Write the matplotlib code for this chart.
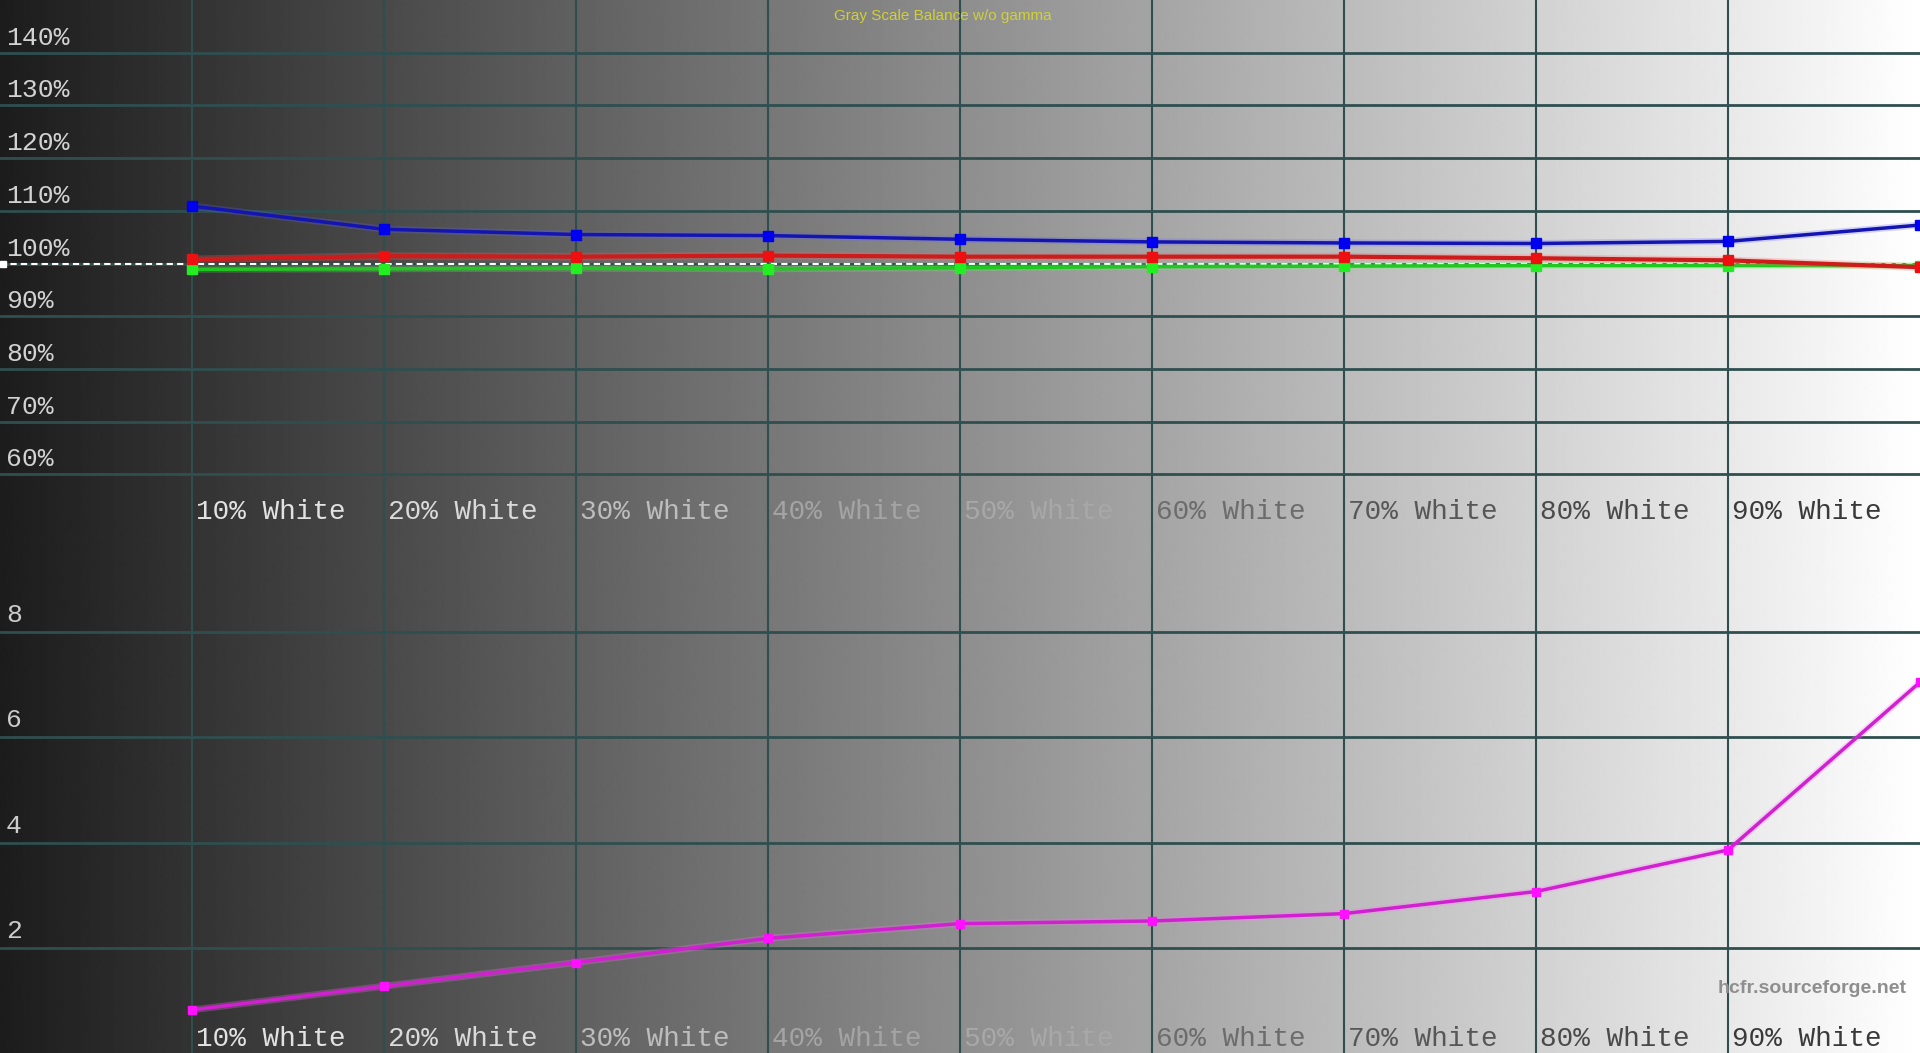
import numpy as np
import matplotlib.pyplot as plt
import matplotlib.patheffects as pe

# measured gray levels (% white)
levels = [10, 20, 30, 40, 50, 60, 70, 80, 90, 100]
x_labels = ["10% White", "20% White", "30% White", "40% White", "50% White",
            "60% White", "70% White", "80% White", "90% White"]

# RGB balance (%)
red = [100.8, 101.4, 101.3, 101.5, 101.3, 101.3, 101.3, 101.0, 100.6, 99.3]
green = [98.9, 99.0, 99.1, 99.0, 99.2, 99.4, 99.5, 99.6, 99.6, 99.6]
blue = [110.9, 106.5, 105.5, 105.3, 104.6, 104.1, 103.9, 103.8, 104.2, 107.3]

# delta E
delta_e = [0.82, 1.27, 1.72, 2.18, 2.46, 2.51, 2.65, 3.07, 3.86, 7.05]

rgb_ticks = [60, 70, 80, 90, 100, 110, 120, 130, 140]
de_ticks = [2, 4, 6, 8]

label_colors = ["#e2e2e2", "#dadada", "#bdbdbd", "#a4a4a4", "#a8a8a8",
                "#6c6c6c", "#575757", "#4a4a4a", "#3a3a3a"]

GRID = "#2f4f4f"
MONO = "Liberation Mono"


def draw_series(ax, y, line_color, glow_color, mark_color, lw, ms, z):
    # soft halo under the line, then plain square markers on top
    ax.plot(levels, y, color=line_color, lw=lw, zorder=z,
            path_effects=[pe.Stroke(linewidth=lw + 2.5, foreground=glow_color,
                                    alpha=0.25), pe.Normal()])
    ax.plot(levels, y, ls="none", marker="s", ms=ms, mfc=mark_color,
            mec=mark_color, zorder=z + 0.5)


def draw_grid(ax, yticks):
    for x in levels[:-1]:
        ax.axvline(x, color=GRID, lw=1.5, zorder=1)
    for y in yticks:
        ax.axhline(y, color=GRID, lw=2, zorder=1)


def draw_xlabels(ax, y):
    for x, lab, c in zip(levels, x_labels, label_colors):
        ax.text(x + 0.2, y, lab, color=c, fontsize=20, family=MONO,
                ha="left", va="baseline", zorder=2)


fig = plt.figure(figsize=(19.2, 10.53), dpi=100)

# background gradient dark -> white
bg = fig.add_axes([0, 0, 1, 1], zorder=0)
grad = np.linspace(0, 1, 1024).reshape(1, -1)
bg.imshow(grad, aspect="auto", cmap="gray", vmin=-0.125, vmax=1.0,
          extent=[0, 1, 0, 1], interpolation="bilinear")
bg.set_axis_off()

# top panel: RGB balance
ax1 = fig.add_axes([0, 0.4995, 1, 0.5005], zorder=1)
ax1.patch.set_alpha(0)
ax1.set_xlim(0, 100)
ax1.set_ylim(50, 150)
draw_grid(ax1, rgb_ticks)
for v in rgb_ticks:
    ax1.text(0.3, v + 1.5, f"{v}%", color="#d2d2d2", fontsize=19,
             family=MONO, va="baseline", zorder=2)
ax1.plot([0, 100], [100, 100], color="white", lw=1.5, ls=(0, (3, 2)), zorder=3)
ax1.plot([0.15], [100], marker="s", ms=5, color="white", zorder=3)
draw_series(ax1, green, "#22c822", "#66ff66", "#22ee22", 2.5, 7, 4)
draw_series(ax1, red, "#cc1c1c", "#ff6060", "#ee1010", 3, 7, 5)
draw_series(ax1, blue, "#1414b0", "#6060ff", "#0000f0", 2.5, 7, 6)
draw_xlabels(ax1, 51.5)
ax1.text(49.1, 147, "Gray Scale Balance w/o gamma", color="#d0d038",
         fontsize=11, family="Liberation Sans", ha="center", va="center", zorder=7)
ax1.set_axis_off()

# bottom panel: delta E
ax2 = fig.add_axes([0, 0, 1, 0.4995], zorder=1)
ax2.patch.set_alpha(0)
ax2.set_xlim(0, 100)
ax2.set_ylim(0, 10)
draw_grid(ax2, de_ticks)
for v in de_ticks:
    ax2.text(0.3, v + 0.19, f"{v}", color="#cccccc", fontsize=19,
             family=MONO, va="baseline", zorder=2)
draw_series(ax2, delta_e, "#d020d0", "#ff70ff", "#ff10ff", 2.5, 6, 4)
draw_xlabels(ax2, 0.13)
ax2.text(99.3, 1.22, "hcfr.sourceforge.net", color="#8e8e8e", fontsize=14,
         fontweight="bold", family="Liberation Sans", ha="right", va="center",
         zorder=7)
ax2.set_axis_off()

fig.savefig("out.png", dpi=100)
